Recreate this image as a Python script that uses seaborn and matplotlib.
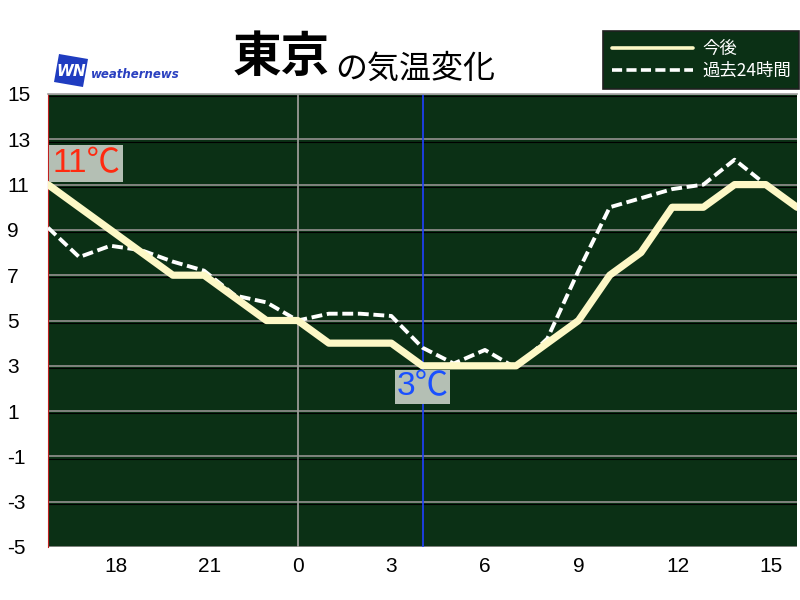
import matplotlib
matplotlib.use("Agg")
import matplotlib.pyplot as plt
import matplotlib.transforms as mtransforms
from matplotlib.patches import Polygon
import pandas as pd
import seaborn as sns

# hourly temperatures, 16:00 yesterday -> 16:00 today
hours = [16, 17, 18, 19, 20, 21, 22, 23, 0, 1, 2, 3, 4, 5, 6, 7, 8, 9, 10, 11, 12, 13, 14, 15, 16]
forecast = [11, 10, 9, 8, 7, 7, 6, 5, 5, 4, 4, 4, 3, 3, 3, 3, 4, 5, 7, 8, 10, 10, 11, 11, 10]
past = [9.1, 7.8, 8.3, 8.1, 7.6, 7.2, 6.1, 5.8, 5.0, 5.3, 5.3, 5.2, 3.8, 3.1, 3.7, 2.9,
        4.2, 7.2, 10.0, 10.4, 10.8, 11.0, 12.1, 11.0, 10.0]
now_index = 12
x_labels = ["18", "21", "0", "3", "6", "9", "12", "15"]
y_ticks = [-5, -3, -1, 1, 3, 5, 7, 9, 11, 13, 15]
series_names = ["今後", "過去24時間"]

steps = list(range(len(hours)))
df = pd.DataFrame({"step": steps, "forecast": forecast, "past": past})

sns.set_theme(style="white")
plt.rcParams["font.family"] = ["Noto Sans CJK JP", "DejaVu Sans"]

fig = plt.figure(figsize=(8, 6), dpi=100, facecolor="white")
W, H = 800, 600
ax = fig.add_axes([48 / W, 1 - 547 / H, (797 - 48) / W, (547 - 94) / H])
ax.set_facecolor("#0b3015")

# grid lines (gray with a dark line just below)
shadow = mtransforms.ScaledTranslation(0, -1.6 / 72, fig.dpi_scale_trans)
for v in y_ticks:
    ax.axhline(v, color="#8a8a86", lw=1.3, zorder=1)
    ax.plot([0, 1], [v, v], color="black", lw=0.8, zorder=1,
            transform=ax.get_yaxis_transform() + shadow)
midnight = hours.index(0)
ax.axvline(midnight, color="#9a9a96", lw=1.3, zorder=1)
ax.axvline(now_index, color="#2040ff", lw=1.2, zorder=2)

sns.lineplot(data=df, x="step", y="past", ax=ax, color="white", lw=2.8,
             linestyle=(0, (2.8, 1.2)), label=series_names[1], zorder=3)
sns.lineplot(data=df, x="step", y="forecast", ax=ax, color="#fdf8c6", lw=5.2,
             label=series_names[0], zorder=4)

ax.set_xlim(0, len(hours) - 1)
ax.set_ylim(-5, 15)
ax.set_xlabel("")
ax.set_ylabel("")
ax.set_xticks([hours.index(int(t)) for t in x_labels])
ax.set_xticklabels(x_labels, family=["Liberation Sans", "DejaVu Sans"], fontsize=15)
ax.set_yticks(y_ticks)
ax.set_yticklabels([str(v) for v in y_ticks], family=["Liberation Sans", "DejaVu Sans"], fontsize=15)
ax.tick_params(axis="y", length=0, pad=29.5, colors="black")
ax.tick_params(axis="x", length=0, pad=7, colors="black")
for lbl in ax.get_yticklabels():
    lbl.set_ha("left")
# x labels start a little left of their hour
shift = mtransforms.ScaledTranslation(-6 / 100, 0, fig.dpi_scale_trans)
for lbl in ax.get_xticklabels():
    lbl.set_ha("left")
    lbl.set_transform(lbl.get_transform() + shift)
for side in ["right", "bottom"]:
    ax.spines[side].set_visible(False)
ax.spines["left"].set_color("#c02020")
ax.spines["left"].set_linewidth(0.8)
ax.spines["top"].set_color("#a0a0a0")
ax.spines["top"].set_linewidth(1.2)

# start / current value labels
label_font = ["Liberation Sans", "Noto Sans CJK JP", "DejaVu Sans"]
ax.annotate(f"{forecast[0]}℃", (0, forecast[0]), xytext=(3, 4), textcoords="offset points",
            ha="left", va="bottom", fontsize=24, color="#ff2a10", family=label_font,
            bbox=dict(boxstyle="square,pad=0.1", fc="#b4bfb4", ec="none"), zorder=6)
ax.annotate(f"{forecast[now_index]}℃", (now_index, forecast[now_index]), xytext=(0, -4),
            textcoords="offset points", ha="center", va="top", fontsize=24, color="#1a50ff",
            family=label_font,
            bbox=dict(boxstyle="square,pad=0.05", fc="#b4bfb4", ec="none"), zorder=6)

# legend
handles, labels = ax.get_legend_handles_labels()
order = [labels.index(n) for n in series_names]
leg = ax.legend([handles[i] for i in order], [labels[i] for i in order],
                loc="upper left", bbox_to_anchor=(603 / W, 1 - 31 / H), bbox_transform=fig.transFigure,
                frameon=True, fancybox=False, facecolor="#0b3015", edgecolor="#202020",
                labelcolor="white", fontsize=12.5, handlelength=4.7, handletextpad=0.5,
                borderpad=0.5, labelspacing=0.25, borderaxespad=0)
leg.get_frame().set_linewidth(1.2)
leg.get_frame().set_alpha(1)
for line in leg.get_lines():
    line.set_linewidth(2.6)

# title
fig.text(233 / W, 1 - 58 / H, "東京", fontsize=35, fontweight="bold", ha="left", va="center", color="black")
fig.text(335 / W, 1 - 69 / H, "の気温変化", fontsize=23, ha="left", va="center", color="black")

# logo
logo = [(59, 54), (88, 59), (83, 87), (54, 82)]
fig.patches.append(Polygon([(px / W, 1 - py / H) for px, py in logo], closed=True,
                           transform=fig.transFigure, fc="#1f3cc0", ec="none"))
fig.text(71 / W, 1 - 72 / H, "WN", fontsize=11, fontweight="bold", style="italic",
         color="white", ha="center", va="center", family="DejaVu Sans")
fig.text(91 / W, 1 - 74 / H, "weathernews", fontsize=8.5, fontweight="bold", style="italic",
         color="#2a40c0", ha="left", va="center", family="DejaVu Sans")

fig.savefig("out.png", dpi=100)
